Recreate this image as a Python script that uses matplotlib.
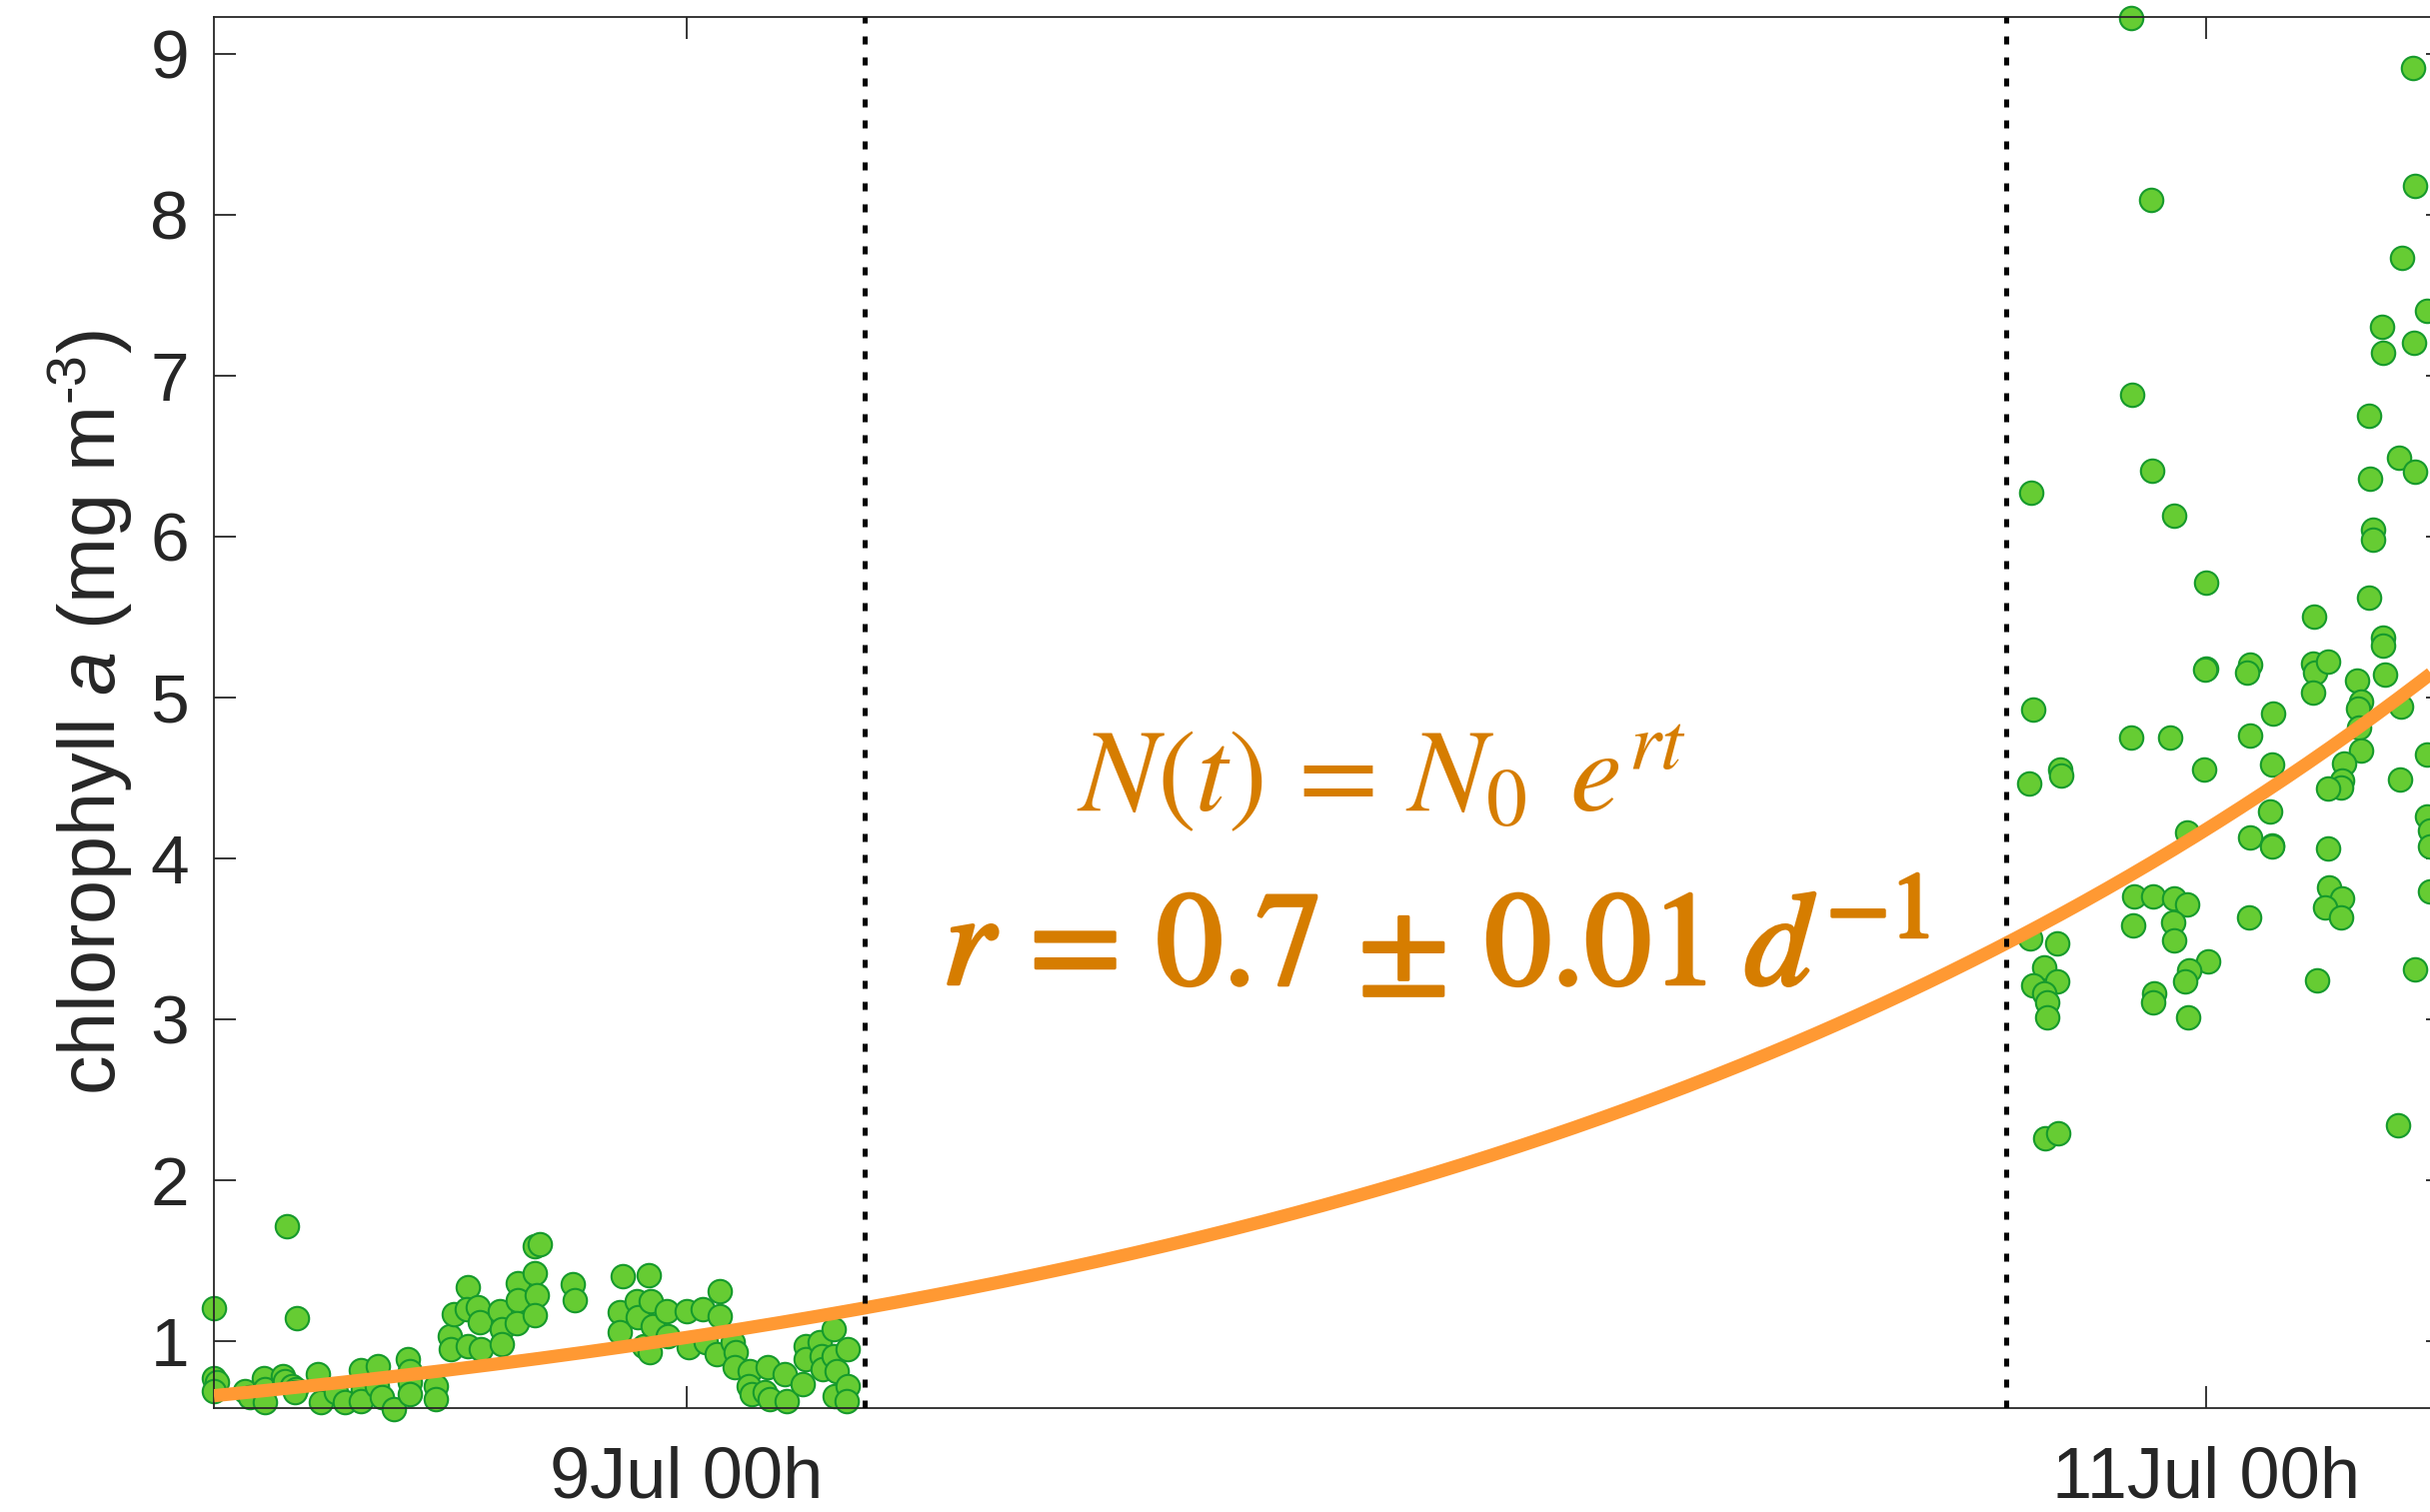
import numpy as np
import matplotlib
matplotlib.use("Agg")
import matplotlib.pyplot as plt
import matplotlib.patheffects as pe

# time in days since 8 Jul 00h, chlorophyll a in mg m^-3
t_before = [0.378, 0.474, 0.487, 0.378, 0.381, 0.378, 0.419, 0.425, 0.443, 0.445,
            0.445, 0.469, 0.471, 0.480, 0.486, 0.484, 0.515, 0.519, 0.538, 0.550,
            0.571, 0.574, 0.571, 0.594, 0.592, 0.598, 0.614, 0.633, 0.636, 0.636,
            0.636, 0.670, 0.670, 0.688, 0.690, 0.693, 0.712, 0.712, 0.729, 0.710,
            0.725, 0.727, 0.754, 0.756, 0.756, 0.778, 0.778, 0.776, 0.800, 0.800,
            0.802, 0.800, 0.807, 0.850, 0.852, 0.916, 0.950, 0.912, 0.912, 0.934,
            0.936, 0.943, 0.953, 0.955, 0.951, 0.973, 0.975, 1.000, 1.002, 1.021,
            1.025, 1.043, 1.043, 1.039, 1.061, 1.065, 1.063, 1.083, 1.081, 1.085,
            1.107, 1.103, 1.109, 1.129, 1.131, 1.153, 1.157, 1.157, 1.175, 1.177,
            1.179, 1.193, 1.193, 1.197, 1.195, 1.212, 1.212, 1.210]
chl_before = [1.20, 1.71, 1.14, 0.765, 0.744, 0.688, 0.688, 0.647, 0.77, 0.70,
              0.62, 0.78, 0.75, 0.72, 0.70, 0.68, 0.79, 0.62, 0.68, 0.62,
              0.815, 0.70, 0.626, 0.84, 0.72, 0.647, 0.575, 0.885, 0.81, 0.74,
              0.67, 0.72, 0.637, 1.03, 0.947, 1.165, 1.33, 0.968, 0.947, 1.196,
              1.206, 1.113, 1.185, 1.07, 0.98, 1.36, 1.25, 1.11, 1.59, 1.42,
              1.28, 1.16, 1.60, 1.35, 1.25, 1.40, 1.41, 1.175, 1.05, 1.247,
              1.144, 0.968, 1.247, 1.092, 0.927, 1.185, 1.03, 1.185, 0.958, 1.196,
              0.989, 1.31, 1.154, 0.916, 0.989, 0.927, 0.834, 0.81, 0.72, 0.668,
              0.834, 0.678, 0.637, 0.79, 0.626, 0.73, 0.968, 0.885, 0.989, 0.906,
              0.823, 1.07, 0.906, 0.81, 0.657, 0.947, 0.72, 0.626]

t_after = [2.901, 3.272, 2.927, 3.275, 3.257, 3.290, 3.231, 3.273, 3.232, 2.902,
           3.214, 3.253, 3.274, 3.216, 2.769, 2.928, 2.957, 3.219, 3.219, 3.000,
           3.214, 3.142, 3.233, 3.233, 3.140, 3.143, 3.160, 3.000, 2.998, 3.058,
           3.053, 3.235, 3.198, 3.140, 3.203, 3.199, 3.256, 2.772, 3.088, 3.201,
           2.901, 2.952, 3.057, 3.203, 3.181, 3.179, 3.177, 3.160, 3.291, 2.807,
           2.809, 2.767, 2.997, 3.087, 3.255, 3.084, 3.291, 2.974, 3.057, 3.086,
           3.087, 3.160, 3.294, 3.294, 3.294, 2.905, 2.930, 2.957, 2.975, 2.904,
           2.956, 2.957, 3.056, 3.162, 3.179, 3.156, 3.177, 2.768, 2.803, 2.787,
           2.772, 2.804, 2.787, 2.790, 2.791, 3.002, 2.977, 2.972, 2.931, 2.930,
           2.976, 3.145, 3.275, 2.788, 2.805, 3.252]
chl_after = [9.22, 8.91, 8.09, 8.18, 7.73, 7.40, 7.30, 7.20, 7.14, 6.88,
             6.75, 6.49, 6.40, 6.36, 6.27, 6.41, 6.13, 6.04, 5.98, 5.71,
             5.62, 5.50, 5.37, 5.32, 5.21, 5.15, 5.22, 5.18, 5.17, 5.20,
             5.15, 5.14, 5.10, 5.03, 4.97, 4.93, 4.94, 4.92, 4.90, 4.81,
             4.75, 4.75, 4.76, 4.67, 4.59, 4.48, 4.44, 4.43, 4.64, 4.55,
             4.51, 4.46, 4.55, 4.58, 4.49, 4.29, 4.26, 4.16, 4.13, 4.08,
             4.07, 4.06, 4.17, 4.07, 3.79, 3.76, 3.76, 3.75, 3.71, 3.58,
             3.60, 3.49, 3.63, 3.82, 3.75, 3.69, 3.63, 3.50, 3.47, 3.32,
             3.21, 3.23, 3.16, 3.10, 3.01, 3.36, 3.30, 3.23, 3.16, 3.10,
             3.01, 3.24, 3.31, 2.26, 2.29, 2.34]

# exponential fit N(t) = N0 exp(r t), N0 given at 9 Jul 00h
N0 = 1.02
r = 0.705
fit_bounds = [1.2336, 2.7368]   # dotted lines
xticks = [1, 3]
xticklabels = ["9Jul 00h", "11Jul 00h"]
yticks = [1, 2, 3, 4, 5, 6, 7, 8, 9]
xlim = (0.3776, 3.318)
ylim = (0.579, 9.225)

plt.rcParams["font.family"] = "Liberation Sans"
plt.rcParams["mathtext.fontset"] = "custom"
plt.rcParams["mathtext.rm"] = "Liberation Sans"
plt.rcParams["mathtext.it"] = "Liberation Sans:italic"

fig = plt.figure(figsize=(24.31, 15.13), dpi=100)
ax = fig.add_axes([214 / 2431, 1 - 1409.3 / 1513, (2449 - 214) / 2431, (1409.3 - 17.3) / 1513])

ax.scatter(t_before + t_after, chl_before + chl_after, s=285, c="#66cc33",
           edgecolors="#169a2c", linewidths=1.5, clip_on=False, zorder=2)

tt = np.linspace(xlim[0], xlim[1], 400)
ax.plot(tt, N0 * np.exp(r * (tt - 1)), color="#ff9933", lw=9.5, zorder=3,
        solid_capstyle="butt")

for xb in fit_bounds:
    ax.axvline(xb, color="black", lw=3.6, linestyle=(0, (1.6, 2.6)), zorder=4)

txt_color = "#d67d00"
ax.text(1.914, 4.295, r"$N(t)\,=\,N_0\;\, e^{rt}$", color=txt_color, fontsize=84,
        ha="center", va="baseline", math_fontfamily="stix", zorder=5)
ax.text(1.986, 3.214, r"$r\,=\,0.7\,\pm\,0.01\;d^{-1}$", color=txt_color, fontsize=96,
        ha="center", va="baseline", math_fontfamily="stix", zorder=5,
        path_effects=[pe.withStroke(linewidth=2.5, foreground=txt_color)])

ax.set_xlim(*xlim)
ax.set_ylim(*ylim)
ax.set_xticks(xticks)
ax.set_xticklabels(xticklabels)
ax.set_yticks(yticks)

axis_color = "#262626"
for sp in ax.spines.values():
    sp.set_color(axis_color)
    sp.set_linewidth(1.3)
ax.tick_params(axis="both", direction="in", length=15.8, width=1.3, color=axis_color,
               top=True, right=True, labelcolor=axis_color)
ax.tick_params(axis="y", labelsize=50, pad=18)
ax.tick_params(axis="x", labelsize=52, pad=27)

ax.set_ylabel("chlorophyll $a$ (mg m$^{\u20103}$)", fontsize=57, color=axis_color)
ax.yaxis.set_label_coords((135 - 214) / 2235, 0.5)

fig.savefig("out.png", dpi=100)
